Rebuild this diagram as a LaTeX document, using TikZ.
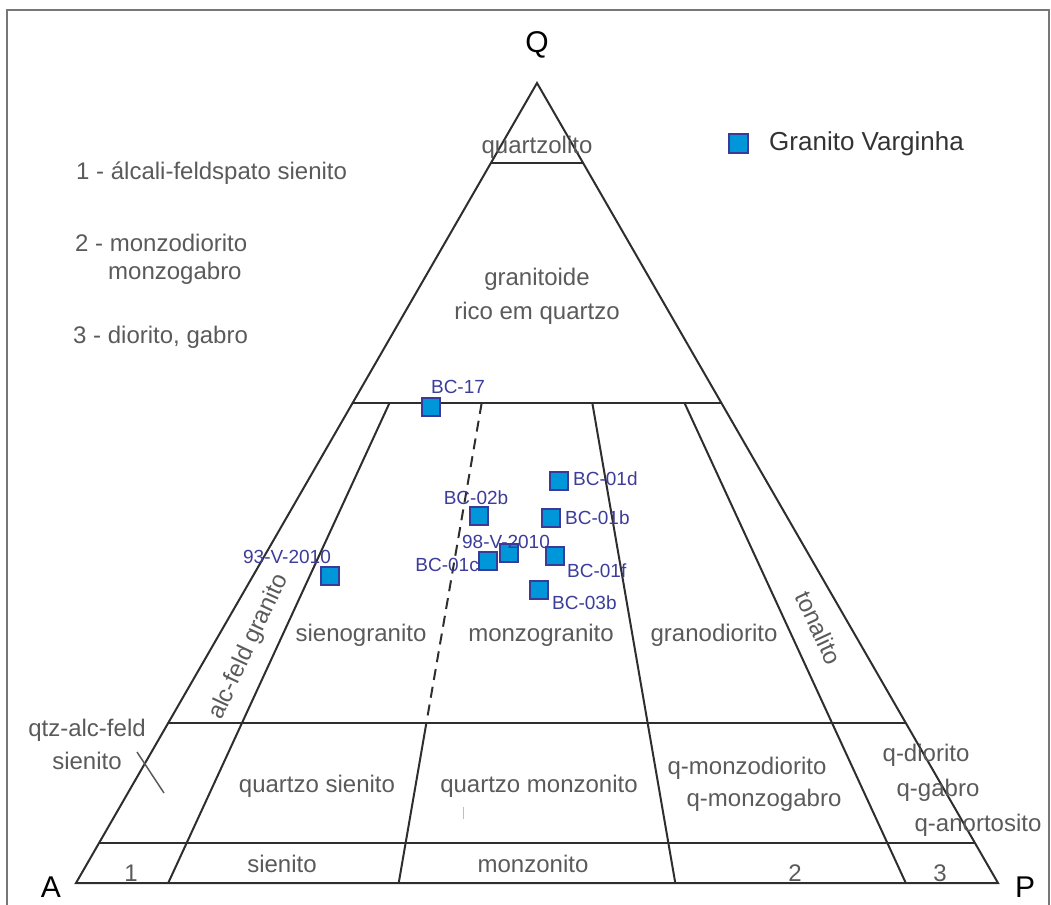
\documentclass[tikz,border=0pt]{standalone}
\usepackage{fontspec}
\setmainfont{Liberation Sans}
\usetikzlibrary{calc}
\definecolor{linec}{HTML}{2E2E2E}
\definecolor{txtc}{HTML}{5A5A5A}
\definecolor{bluetxt}{HTML}{3C3C9A}
\definecolor{sqfill}{HTML}{0096DA}
\definecolor{sqdraw}{HTML}{3A3A98}
\definecolor{framec}{HTML}{777777}
\tikzset{
  field/.style={text=txtc, font=\fontsize{24}{28}\selectfont, inner sep=0pt, align=center},
  corner/.style={text=black, font=\fontsize{30}{34}\selectfont, inner sep=0pt},
  samp/.style={text=bluetxt, font=\fontsize{19}{22}\selectfont, inner sep=0pt},
  sq/.style={draw=sqdraw, fill=sqfill, line width=2pt, minimum size=18pt, inner sep=0pt},
  edge/.style={draw=linec, line width=2pt},
}
\begin{document}
\begin{tikzpicture}[x=1pt,y=-1pt]
\useasboundingbox (0,0) rectangle (1051,904);
% frame
\coordinate (F1) at (7,910);
\coordinate (F2) at (7,10);
\coordinate (F3) at (1049,10);
\coordinate (F4) at (1049,910);
\draw[framec, line width=2.5pt] (F1) -- (F2) -- (F3) -- (F4);
% vertices
\coordinate (A) at (76,883);
\coordinate (P) at (998,883);
\coordinate (Q) at (537,83);
% horizontal lines
\foreach \n/\t in {a/0.1, b/0.4, c/0.8, d/0.95}{
  \coordinate (L\n) at ($(Q)!\t!(A)$);
  \coordinate (R\n) at ($(Q)!\t!(P)$);
}
% base division points
\foreach \n/\r in {1/0.1, 2/0.35, 3/0.65, 4/0.9}{
  \coordinate (B\n) at ($(A)!\r!(P)$);
  \coordinate (T\n) at ($(Q)!0.4!(B\n)$);
  \coordinate (M\n) at ($(Q)!0.8!(B\n)$);
}
\draw[edge, line join=miter] (A) -- (Q) -- (P) -- cycle;
\draw[edge] (La) -- (Ra);
\draw[edge] (Lb) -- (Rb);
\draw[edge] (Lc) -- (Rc);
\draw[edge] (Ld) -- (Rd);
\draw[edge] (T1) -- (B1);
\draw[edge] (T3) -- (B3);
\draw[edge] (T4) -- (B4);
\draw[edge] (M2) -- (B2);
\draw[edge, dash pattern=on 11pt off 7pt] (T2) -- (M2);
% small marks
\coordinate (X1) at (137,752);
\coordinate (X2) at (164,793);
\draw[txtc, line width=1.5pt] (X1) -- (X2);
\coordinate (K1) at (463,807);
\coordinate (K2) at (463,819);
\draw[gray!50, line width=1pt] (K1) -- (K2);
% corner labels
\node[corner] (lQ) at (537,45) {Q};
\node[corner] (lA) at (51,887) {A};
\node[corner] (lP) at (1025,887) {P};
% legend notes
\node[field, anchor=west] (n1) at (76,173) {1 - álcali-feldspato sienito};
\node[field, anchor=west] (n2) at (75,243) {2 - monzodiorito};
\node[field, anchor=west] (n2b) at (108,273) {monzogabro};
\node[field, anchor=west] (n3) at (73,337) {3 - diorito, gabro};
% field labels
\node[field] (f1) at (537,147) {quartzolito};
\node[field] (f2) at (537,296) {granitoide\\[6pt]rico em quartzo};
\node[field] (f3) at (361,635) {sienogranito};
\node[field] (f4) at (541,635) {monzogranito};
\node[field] (f5) at (714,635) {granodiorito};
\node[field, rotate=65] (f6) at (249,647) {alc-feld granito};
\node[field, rotate=-65] (f7) at (819,628) {tonalito};
\node[field] (f8) at (87,730) {qtz-alc-feld};
\node[field] (f9) at (87,761) {sienito};
\node[field] (f10) at (317,786) {quartzo sienito};
\node[field] (f11) at (539,786) {quartzo monzonito};
\node[field] (f12) at (747,768) {q-monzodiorito};
\node[field] (f13) at (764,800) {q-monzogabro};
\node[field] (f14) at (926,755) {q-diorito};
\node[field] (f15) at (938,790) {q-gabro};
\node[field] (f16) at (978,825) {q-anortosito};
\node[field] (f17) at (131,873) {1};
\node[field] (f18) at (282,864) {sienito};
\node[field] (f19) at (533,864) {monzonito};
\node[field] (f20) at (795,873) {2};
\node[field] (f21) at (940,873) {3};
% legend
\node[sq, minimum size=19pt] (lg) at (738,143.5) {};
\node[text=black!80, font=\fontsize{26}{30}\selectfont, inner sep=0pt, anchor=west] (lgt) at (769,144) {Granito Varginha};
% samples
\node[sq] (s1) at (431,407) {};
\node[samp] (t1) at (458,387) {BC-17};
\node[sq] (s2) at (559,481) {};
\node[samp, anchor=west] (t2) at (573,479) {BC-01d};
\node[sq] (s3) at (479,516) {};
\node[samp] (t3) at (476,498) {BC-02b};
\node[sq] (s4) at (551,518) {};
\node[samp, anchor=west] (t4) at (565,518) {BC-01b};
\node[sq] (s6) at (488,561) {};
\node[sq] (s5) at (509,553) {};
\node[samp] (t5) at (506,542) {98-V-2010};
\node[samp, anchor=east] (t6) at (479,565) {BC-01c};
\node[sq] (s7) at (555,556) {};
\node[samp, anchor=west] (t7) at (567,571) {BC-01f};
\node[sq] (s8) at (539,590) {};
\node[samp, anchor=west] (t8) at (552,603) {BC-03b};
\node[sq] (s9) at (330,576) {};
\node[samp] (t9) at (287,557) {93-V-2010};
\end{tikzpicture}
\end{document}
